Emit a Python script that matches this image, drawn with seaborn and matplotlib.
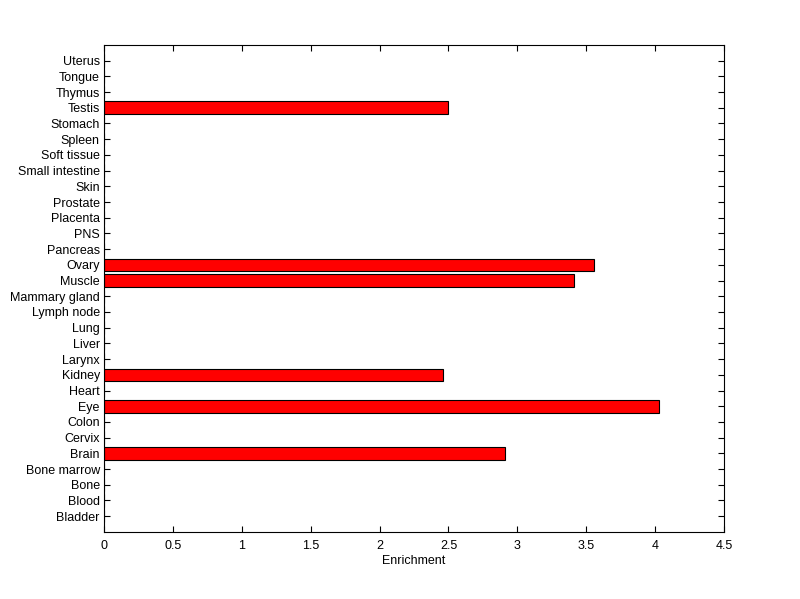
import pandas as pd
import numpy as np
import seaborn as sns
import matplotlib.pyplot as plt

# tissues from top to bottom of the chart
tissues = ['Uterus', 'Tongue', 'Thymus', 'Testis', 'Stomach', 'Spleen', 'Soft tissue',
           'Small intestine', 'Skin', 'Prostate', 'Placenta', 'PNS', 'Pancreas', 'Ovary',
           'Muscle', 'Mammary gland', 'Lymph node', 'Lung', 'Liver', 'Larynx', 'Kidney',
           'Heart', 'Eye', 'Colon', 'Cervix', 'Brain', 'Bone marrow', 'Bone', 'Blood', 'Bladder']
enrichment = [0, 0, 0, 2.50, 0, 0, 0,
              0, 0, 0, 0, 0, 0, 3.56,
              3.41, 0, 0, 0, 0, 0, 2.46,
              0, 4.03, 0, 0, 2.91, 0, 0, 0, 0]
x_ticks = [0, 0.5, 1, 1.5, 2, 2.5, 3, 3.5, 4, 4.5]

sns.set_style('white')
plt.rcParams['font.family'] = ['Liberation Sans', 'DejaVu Sans']
plt.rcParams['text.color'] = 'black'
plt.rcParams['axes.labelcolor'] = 'black'
plt.rcParams['xtick.color'] = 'black'
plt.rcParams['ytick.color'] = 'black'

df = pd.DataFrame({'tissue': tissues, 'enrichment': enrichment})

fig = plt.figure(figsize=(8, 5.99), dpi=100)
ax = fig.add_axes([0.13, 0.112, 0.775, 0.813])
sns.barplot(data=df, x='enrichment', y='tissue', order=tissues, orient='h',
            color='#ff0000', saturation=1, width=0.8, edgecolor='black',
            linewidth=0.8, ax=ax)

ax.set_xlim(0, 4.5)
ax.set_ylim(len(tissues), -1)
ax.set_xticks(x_ticks)
ax.set_xticklabels(['0', '0.5', '1', '1.5', '2', '2.5', '3', '3.5', '4', '4.5'])
ax.set_xlabel('Enrichment', fontsize=9, labelpad=2)
ax.set_ylabel('')
ax.tick_params(axis='both', which='both', direction='in', length=4.5, width=0.8,
               labelsize=9, colors='black', top=True, right=True,
               left=True, bottom=True)
ax.tick_params(axis='x', pad=6)
ax.tick_params(axis='y', pad=3)
for s in ax.spines.values():
    s.set_color('black')
    s.set_linewidth(0.8)

fig.savefig('out.png', dpi=100, facecolor='white')
